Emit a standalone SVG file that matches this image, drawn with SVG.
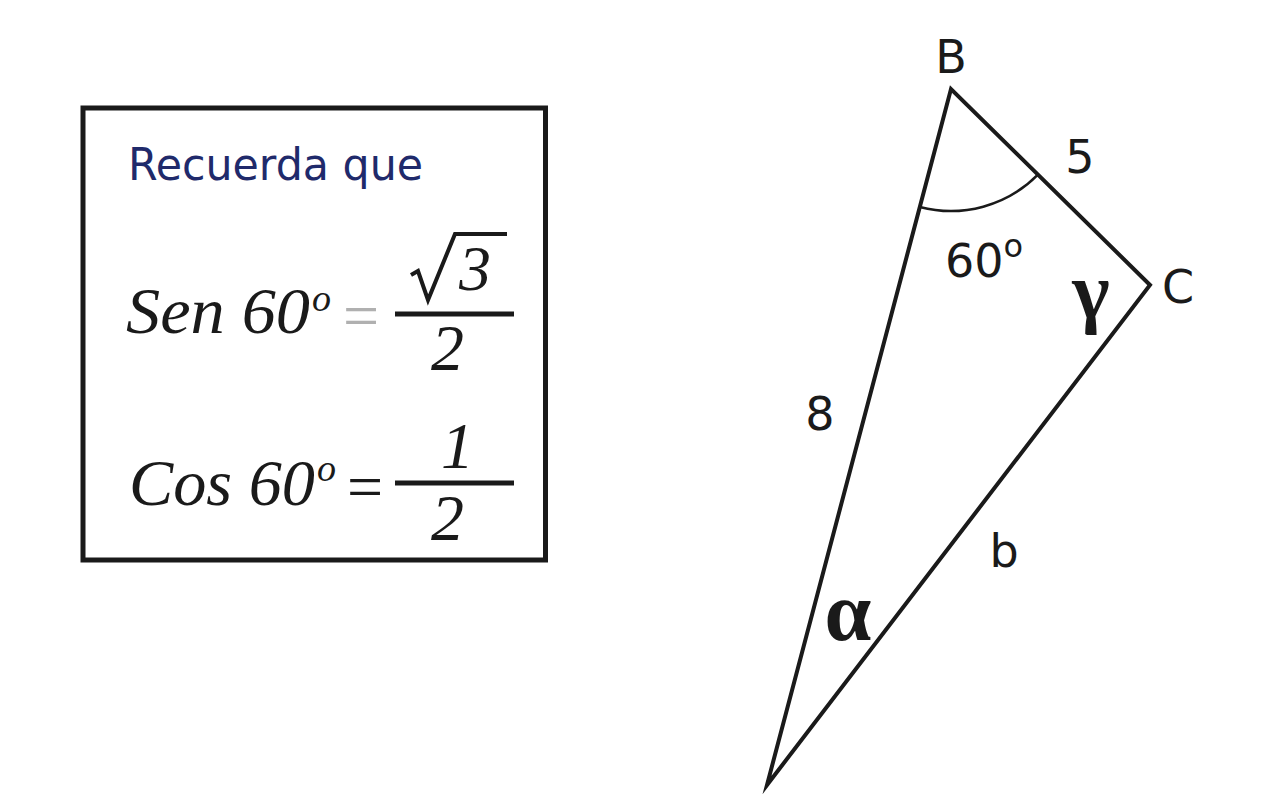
<svg xmlns="http://www.w3.org/2000/svg" width="1286" height="795" viewBox="0 0 1286 795">
<style>
.sans{font-family:"DejaVu Sans","Liberation Sans",sans-serif;fill:#1a1a1a}
.math{font-family:"Liberation Serif","DejaVu Serif",serif;font-style:italic;fill:#1a1a1a}
.greek{font-family:"Liberation Serif","DejaVu Serif",serif;font-weight:bold;fill:#1a1a1a}
.bar{stroke:#1a1a1a;stroke-width:5}
</style>
<rect width="1286" height="795" fill="#fff"/>
<g id="reminder-box">
<rect x="83" y="108" width="462.5" height="452" fill="none" stroke="#1a1a1a" stroke-width="5"/>
<text x="128" y="180" class="sans" font-size="45" style="fill:#1f2a6b" textLength="295" lengthAdjust="spacingAndGlyphs">Recuerda que</text>
<g id="sen-formula">
<text x="126" y="333" class="math" font-size="66" textLength="184" lengthAdjust="spacingAndGlyphs">Sen 60</text>
<text x="312" y="311" class="math" font-size="38">o</text>
<text x="361" y="337" class="math" font-size="64" text-anchor="middle" style="font-style:normal;fill:#b0b0b0">=</text>
<line x1="395" y1="314" x2="514" y2="314" class="bar"/>
<path d="M411 275 L418 271 L428 300 L455 234 L507 234" fill="none" stroke="#1a1a1a" stroke-width="4" stroke-linejoin="miter"/>
<text x="459" y="290" class="math" font-size="64">3</text>
<text x="431" y="370" class="math" font-size="66">2</text>
</g>
<g id="cos-formula">
<text x="129" y="505" class="math" font-size="66" textLength="186" lengthAdjust="spacingAndGlyphs">Cos 60</text>
<text x="317" y="481" class="math" font-size="38">o</text>
<text x="365" y="508" class="math" font-size="64" text-anchor="middle" style="font-style:normal">=</text>
<line x1="395" y1="483" x2="514" y2="483" class="bar"/>
<text x="441" y="468" class="math" font-size="66">1</text>
<text x="431" y="540" class="math" font-size="66">2</text>
</g>
</g>
<g id="triangle">
<polygon points="767,785 951,89 1150,285" fill="none" stroke="#1a1a1a" stroke-width="4" stroke-linejoin="miter" stroke-miterlimit="20"/>
<path d="M919.8 207 A122 122 0 0 0 1037.9 174.6" fill="none" stroke="#1a1a1a" stroke-width="2.5"/>
</g>
<g id="labels">
<text x="951" y="73" class="sans" font-size="46" text-anchor="middle">B</text>
<text x="1080" y="173" class="sans" font-size="46" text-anchor="middle">5</text>
<text x="945" y="277" class="sans" font-size="46">60<tspan font-size="32" dy="-20">o</tspan></text>
<text x="1091" y="318" class="greek" font-size="80" text-anchor="middle">γ</text>
<text x="1162" y="303" class="sans" font-size="46">C</text>
<text x="820" y="430" class="sans" font-size="46" text-anchor="middle">8</text>
<text x="1004" y="567" class="sans" font-size="46" text-anchor="middle">b</text>
<text x="848" y="640" class="greek" font-size="84" text-anchor="middle">α</text>
</g>
</svg>
